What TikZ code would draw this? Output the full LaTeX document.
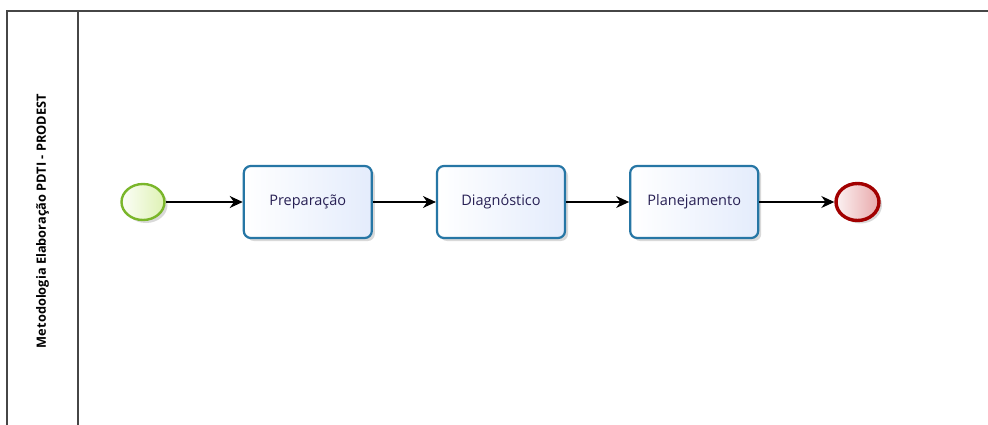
\documentclass[tikz,border=0pt]{standalone}
\usepackage{fontspec}
\setmainfont{Open Sans}
\usepackage{xcolor}
\usepackage{tikz}
\usetikzlibrary{arrows.meta}
\usetikzlibrary{positioning}
\usetikzlibrary{shadows}
\definecolor{taskline}{RGB}{38,118,165}
\definecolor{taskfill}{RGB}{228,236,252}
\definecolor{tasktext}{RGB}{40,32,84}
\definecolor{startline}{RGB}{122,182,42}
\definecolor{startfill}{RGB}{222,242,180}
\definecolor{endline}{RGB}{162,0,0}
\definecolor{endfill}{RGB}{232,168,170}
\definecolor{poolline}{RGB}{70,70,70}
\tikzset{
    task/.style={
           rectangle,
           rounded corners=7pt,
           draw=taskline, line width=2.2pt,
           shading=axis, shading angle=135,
           left color=white, right color=taskfill,
           drop shadow={shadow xshift=3pt, shadow yshift=-3pt, opacity=0.25, fill=black!60},
           minimum width=128pt,
           minimum height=72pt,
           inner sep=2pt,
           font=\fontsize{14.5}{17}\selectfont,
           text=tasktext,
           text centered,
           },
     startevent/.style={
           ellipse,
           draw=startline, line width=2.4pt,
           shading=axis, shading angle=135,
           left color=white!90!startfill, right color=startfill,
           drop shadow={shadow xshift=3pt, shadow yshift=-3pt, opacity=0.25, fill=black!60},
           minimum width=43pt,
           minimum height=36pt,
           inner sep=0pt,
           },
     endevent/.style={
           ellipse,
           draw=endline, line width=3.4pt,
           shading=axis, shading angle=135,
           left color=white!85!endfill, right color=endfill,
           drop shadow={shadow xshift=3pt, shadow yshift=-3pt, opacity=0.25, fill=black!60},
           minimum width=43pt,
           minimum height=37pt,
           inner sep=0pt,
           },
     flow/.style={
           -{Stealth[length=13pt,width=12pt]},
           line width=1.1pt,
           },
}
\usetikzlibrary{shapes.geometric}

\begin{document}
\begin{tikzpicture}[x=1pt,y=1pt]
	\useasboundingbox (0,0) rectangle (988,-425);

	%pool and lane
	\coordinate (pooltl) at (7,-11);
	\coordinate (poolbl) at (7,-425);
	\coordinate (pooltr) at (988,-11);
	\coordinate (lanet) at (78,-11);
	\coordinate (laneb) at (78,-425);
	\draw[poolline, line width=1.3pt] (poolbl) -- (pooltl) -- (pooltr);
	\draw[poolline, line width=1.3pt] (lanet) -- (laneb);
	\node[rotate=90, font=\bfseries\fontsize{12.8}{15}\selectfont] (lane) at (42.5,-221) {Metodologia Elaboração PDTI - PRODEST};

	%process
	\node[startevent] (start) at (143,-202) {};
	\node[task, right=77pt of start] (prep) {Preparação};
	\node[task, right=63pt of prep] (diag) {Diagnóstico};
	\node[task, right=63pt of diag] (plan) {Planejamento};
	\node[endevent, right=75pt of plan] (end) {};

	%EDGES
	\path[flow]	(start) edge (prep)
			(prep) edge (diag)
			(diag) edge (plan)
			(plan) edge (end);

\end{tikzpicture}
\end{document}
